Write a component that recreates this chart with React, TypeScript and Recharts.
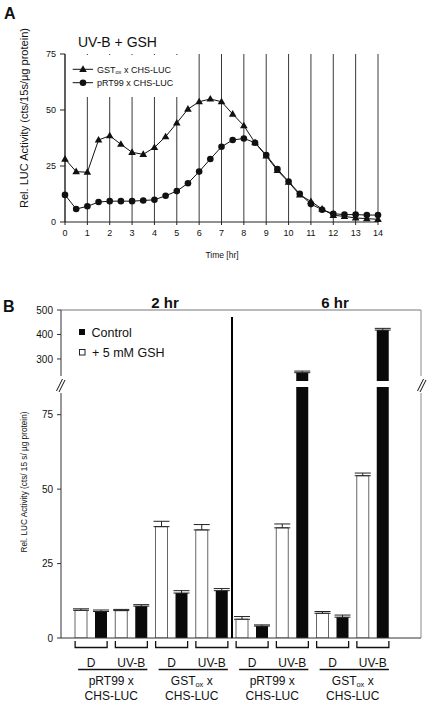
import { LineChart, Line, XAxis, YAxis, CartesianGrid, BarChart, Bar, ErrorBar } from "recharts";

const FONT = '"Liberation Sans", Arial, Helvetica, sans-serif';

// ---- Panel A: LUC activity over time after UV-B + GSH ----
const TIME_HR = [0, 0.5, 1, 1.5, 2, 2.5, 3, 3.5, 4, 4.5, 5, 5.5, 6, 6.5, 7, 7.5, 8, 8.5, 9, 9.5, 10, 10.5, 11, 11.5, 12, 12.5, 13, 13.5, 14];
const GST_OX_LUC = [28.1, 22.5, 22.2, 36.6, 38.5, 34.7, 31.1, 30.2, 33.3, 38.1, 44.2, 50.4, 53.7, 54.9, 53.7, 48.2, 43.0, 35.4, 29.5, 23.0, 17.8, 12.1, 9.2, 5.8, 3.0, 2.5, 1.8, 1.5, 1.2];
const PRT99_LUC = [12.1, 5.8, 7.0, 8.9, 9.3, 9.3, 9.3, 9.6, 9.9, 11.7, 13.8, 17.3, 22.5, 28.1, 33.6, 36.6, 37.3, 35.4, 29.9, 23.6, 18.1, 12.6, 8.0, 5.5, 3.7, 3.3, 3.3, 3.1, 3.1];
const HOUR_TICKS = [0, 1, 2, 3, 4, 5, 6, 7, 8, 9, 10, 11, 12, 13, 14];
const A_TICKS = [0, 25, 50, 75];

// ---- Panel B: 2 hr / 6 hr, control vs +5 mM GSH ----
const TREATMENTS = ["D", "UV-B", "D", "UV-B", "D", "UV-B", "D", "UV-B"];
const LINES = ["pRT99", "GSTox", "pRT99", "GSTox"];
const GSH = [9.3, 9.2, 37.4, 36.3, 6.3, 37.0, 8.3, 54.5];
const GSH_ERR = [0.5, 0.4, 1.8, 1.8, 0.9, 1.3, 0.6, 0.9];
const CONTROL = [8.9, 10.7, 15.1, 15.9, 4.0, 244, 7.0, 418];
const CONTROL_ERR = [0.5, 0.5, 0.8, 0.7, 0.4, 6.5, 0.7, 7];
const LOWER_TICKS = [0, 25, 50, 75];
const UPPER_TICKS = [300, 400, 500];
const LOWER_MAX = 84.3;
const UPPER_MIN = 210;
const UPPER_MAX = 500;

const timeData = TIME_HR.map((t, i) => ({ t, gst: GST_OX_LUC[i], prt: PRT99_LUC[i] }));

const lowerData = TREATMENTS.map((tr, i) => ({
  key: String(i),
  gsh: GSH[i],
  gshErr: [0, GSH_ERR[i]],
  control: CONTROL[i],
  controlErr: [0, CONTROL_ERR[i]],
}));

const upperData = lowerData.map((d) => ({
  ...d,
  gsh: d.gsh >= UPPER_MIN ? d.gsh : null,
  control: d.control >= UPPER_MIN ? d.control : null,
}));

const BAND = 40.25;
const PAD = { left: 10, right: 28 };
const INK = "#111";

const triangleDot = (p: any) => {
  const { cx, cy, index } = p;
  if (cx == null || cy == null) return <g key={`t${index}`} />;
  return (
    <path
      key={`t${index}`}
      d={`M${cx},${cy - 4} L${cx + 3.8},${cy + 2.6} L${cx - 3.8},${cy + 2.6} Z`}
      fill={INK}
    />
  );
};

function GstLabel({ x, y, size, anchor, suffix }: { x: number; y: number; size: number; anchor: string; suffix: string }) {
  return (
    <text x={x} y={y} fontSize={size} fill={INK} textAnchor={anchor as any} style={{ whiteSpace: "pre" }}>
      <tspan>GST</tspan>
      <tspan fontSize={size * 0.62} dy={size * 0.22}>ox</tspan>
      <tspan dy={-size * 0.22}>{suffix}</tspan>
    </text>
  );
}

function PairTick(props: any) {
  const { x, y, payload } = props;
  const i = Number(payload.value);
  const line = LINES[Math.floor(i / 2)];
  const gx = x + BAND / 2;
  return (
    <g>
      <path d={`M${x - 16},${y + 3} V${y + 9.5} H${x + 16} V${y + 3}`} fill="none" stroke={INK} strokeWidth={1.3} />
      <text x={x} y={y + 28.5} textAnchor="middle" fontSize={12} fill={INK}>
        {TREATMENTS[i]}
      </text>
      {i % 2 === 0 && (
        <g>
          <line x1={x - 13} x2={x + BAND + 16} y1={y + 31.5} y2={y + 31.5} stroke={INK} strokeWidth={1.4} />
          {line === "GSTox" ? (
            <GstLabel x={gx} y={y + 46.5} size={12} anchor="middle" suffix=" x" />
          ) : (
            <text x={gx} y={y + 46.5} textAnchor="middle" fontSize={12} fill={INK}>
              pRT99 x
            </text>
          )}
          <text x={gx} y={y + 62} textAnchor="middle" fontSize={12} fill={INK}>
            CHS-LUC
          </text>
        </g>
      )}
    </g>
  );
}

function PanelA() {
  return (
    <LineChart width={429} height={262} data={timeData} margin={{ top: 54, right: 51, left: 35, bottom: 10 }}>
      <CartesianGrid vertical horizontal={false} stroke="#3a3a3a" />
      <XAxis
        dataKey="t"
        type="number"
        domain={[0, 14]}
        ticks={HOUR_TICKS}
        interval={0}
        height={30}
        tickSize={3}
        tickMargin={5}
        stroke="#222"
        tick={{ fontSize: 9, fill: INK }}
      />
      <YAxis
        domain={[0, 75]}
        ticks={A_TICKS}
        width={30}
        tickSize={5}
        tickMargin={4}
        stroke="#222"
        tick={{ fontSize: 9, fill: INK }}
      />
      <Line dataKey="gst" stroke={INK} strokeWidth={1} dot={triangleDot} isAnimationActive={false} />
      <Line
        dataKey="prt"
        stroke={INK}
        strokeWidth={1}
        dot={{ r: 3.3, fill: INK, stroke: INK, strokeWidth: 0 }}
        isAnimationActive={false}
      />
    </LineChart>
  );
}

function PanelBUpper() {
  return (
    <BarChart width={429} height={81} data={upperData} margin={{ top: 9, right: 7, left: 31, bottom: 0 }} barGap={8}>
      <XAxis
        dataKey="key"
        orientation="top"
        height={1}
        tick={false}
        tickLine={false}
        axisLine={{ stroke: "#777" }}
        padding={PAD}
      />
      <YAxis
        yAxisId="l"
        domain={[UPPER_MIN, UPPER_MAX]}
        ticks={UPPER_TICKS}
        allowDataOverflow
        width={30}
        tickSize={4}
        tickMargin={4}
        stroke="#333"
        tick={{ fontSize: 10, fill: INK }}
      />
      <YAxis yAxisId="r" orientation="right" width={1} domain={[UPPER_MIN, UPPER_MAX]} tick={false} tickLine={false} axisLine={{ stroke: "#888" }} />
      <Bar yAxisId="l" dataKey="gsh" barSize={12} fill="#fff" stroke="#666" strokeWidth={1} isAnimationActive={false}>
        <ErrorBar dataKey="gshErr" width={8} stroke="#222" strokeWidth={1} direction="y" isAnimationActive={false} />
      </Bar>
      <Bar yAxisId="l" dataKey="control" barSize={12} fill="#0a0a0a" isAnimationActive={false}>
        <ErrorBar dataKey="controlErr" width={8} stroke="#222" strokeWidth={1} direction="y" isAnimationActive={false} />
      </Bar>
    </BarChart>
  );
}

function PanelBLower() {
  return (
    <BarChart width={429} height={323} data={lowerData} margin={{ top: 7, right: 7, left: 31, bottom: 0 }} barGap={8}>
      <XAxis
        dataKey="key"
        height={65}
        interval={0}
        tickSize={0}
        tickMargin={0}
        tickLine={false}
        axisLine={{ stroke: "#333" }}
        padding={PAD}
        tick={(p: any) => <PairTick {...p} />}
      />
      <YAxis
        yAxisId="l"
        domain={[0, LOWER_MAX]}
        ticks={LOWER_TICKS}
        allowDataOverflow
        width={30}
        tickSize={4}
        tickMargin={4}
        stroke="#333"
        tick={{ fontSize: 10, fill: INK }}
      />
      <YAxis yAxisId="r" orientation="right" width={1} domain={[0, LOWER_MAX]} tick={false} tickLine={false} axisLine={{ stroke: "#888" }} />
      <Bar yAxisId="l" dataKey="gsh" barSize={12} fill="#fff" stroke="#666" strokeWidth={1} isAnimationActive={false}>
        <ErrorBar dataKey="gshErr" width={8} stroke="#222" strokeWidth={1} direction="y" isAnimationActive={false} />
      </Bar>
      <Bar yAxisId="l" dataKey="control" barSize={12} fill="#0a0a0a" isAnimationActive={false}>
        <ErrorBar dataKey="controlErr" width={8} stroke="#222" strokeWidth={1} direction="y" isAnimationActive={false} />
      </Bar>
    </BarChart>
  );
}

function Overlay() {
  return (
    <svg width={429} height={703} style={{ position: "absolute", left: 0, top: 0, pointerEvents: "none" }}>
      {/* panel A labels */}
      <text x={4} y={19} fontSize={16} fontWeight="bold" fill={INK}>A</text>
      <text x={78} y={46.5} fontSize={14} fill={INK}>UV-B + GSH</text>
      <rect x={66} y={55} width={118} height={42} fill="#fff" />
      <line x1={72.7} x2={93} y1={69.3} y2={69.3} stroke={INK} />
      <path d="M83,65.3 L86.8,71.9 L79.2,71.9 Z" fill={INK} />
      <GstLabel x={97} y={72.5} size={9} anchor="start" suffix=" x CHS-LUC" />
      <line x1={72.7} x2={93} y1={82.7} y2={82.7} stroke={INK} />
      <circle cx={83} cy={82.7} r={3.3} fill={INK} />
      <text x={97} y={85.9} fontSize={9} fill={INK}>pRT99 x CHS-LUC</text>
      <text
        transform="translate(28,118) rotate(-90)"
        textAnchor="middle"
        fontSize={10.5}
        fill={INK}
        textLength={180}
        lengthAdjust="spacingAndGlyphs"
      >
        Rel. LUC Activity (cts/15s/µg protein)
      </text>
      <text x={222} y={258} textAnchor="middle" fontSize={8.5} fill={INK}>Time [hr]</text>

      {/* panel B labels */}
      <text x={3} y={312} fontSize={16} fontWeight="bold" fill={INK}>B</text>
      <text x={165} y={307.5} textAnchor="middle" fontSize={15} fontWeight="bold" fill={INK}>2 hr</text>
      <text x={335} y={307.5} textAnchor="middle" fontSize={15} fontWeight="bold" fill={INK}>6 hr</text>
      <rect x={79} y={329} width={6} height={6} fill="#0a0a0a" />
      <text x={91.5} y={336.5} fontSize={12.5} fill={INK}>Control</text>
      <rect x={79.5} y={349.5} width={5.5} height={5.5} fill="#fff" stroke="#222" />
      <text x={92} y={356.5} fontSize={12.5} fill={INK}>+ 5 mM GSH</text>
      <text
        transform="translate(27,482) rotate(-90)"
        textAnchor="middle"
        fontSize={8.5}
        fill={INK}
        textLength={141}
        lengthAdjust="spacingAndGlyphs"
      >
        Rel. LUC Activity (cts/ 15 s/ µg protein)
      </text>
      <line x1={232} x2={232} y1={317} y2={638} stroke="#000" strokeWidth={2} />

      {/* axis breaks */}
      <rect x={58} y={376} width={6} height={17} fill="#fff" />
      <line x1={56.5} y1={391} x2={62.5} y2={379} stroke={INK} strokeWidth={1} />
      <line x1={59} y1={392} x2={65} y2={380} stroke={INK} strokeWidth={1} />
      <rect x={418} y={376} width={6} height={17} fill="#fff" />
      <line x1={417.5} y1={391} x2={423.5} y2={379} stroke={INK} strokeWidth={1} />
      <line x1={420} y1={392} x2={426} y2={380} stroke={INK} strokeWidth={1} />
    </svg>
  );
}

export default function App() {
  return (
    <div
      style={{
        position: "absolute",
        left: 0,
        top: 0,
        width: 429,
        height: 703,
        background: "#fff",
        fontFamily: FONT,
        overflow: "hidden",
      }}
    >
      <div style={{ position: "absolute", left: 0, top: 0 }}>
        <PanelA />
      </div>
      <div style={{ position: "absolute", left: 0, top: 300 }}>
        <PanelBUpper />
      </div>
      <div style={{ position: "absolute", left: 0, top: 380 }}>
        <PanelBLower />
      </div>
      <Overlay />
    </div>
  );
}
